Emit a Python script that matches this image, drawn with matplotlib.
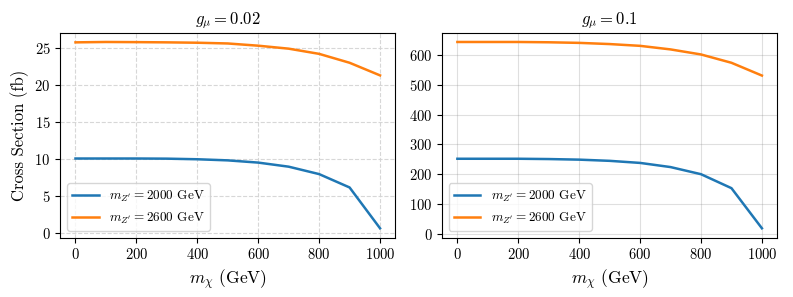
import numpy as np
import matplotlib
matplotlib.use('Agg')
from matplotlib import pyplot as plt

plt.rcParams['font.family'] = 'serif'
plt.rcParams['font.serif'] = ['cmr10']
plt.rcParams['mathtext.fontset'] = 'cm'
plt.rcParams['axes.formatter.use_mathtext'] = True

m_chi = [0, 100, 200, 300, 400, 500, 600, 700, 800, 900, 1000]

# g_mu = 0.02
xs_002_2000 = [10.1, 10.1, 10.1, 10.08, 10.0, 9.85, 9.55, 9.0, 8.0, 6.2, 0.7]
xs_002_2600 = [25.75, 25.8, 25.78, 25.75, 25.7, 25.6, 25.3, 24.9, 24.2, 23.0, 21.3]

# g_mu = 0.1
xs_01_2000 = [252, 252, 252, 251, 249, 245, 238, 224, 200, 153, 18]
xs_01_2600 = [645, 645, 645, 644, 642, 638, 632, 620, 603, 575, 532]

fig, (ax1, ax2) = plt.subplots(1, 2, figsize=(7.93, 2.97), dpi=100)

ax1.plot(m_chi, xs_002_2000, color='tab:blue', lw=1.8, label=r'$m_{Z^\prime} = 2000$ GeV')
ax1.plot(m_chi, xs_002_2600, color='tab:orange', lw=1.8, label=r'$m_{Z^\prime} = 2600$ GeV')
ax1.set_title(r'$g_\mu = 0.02$', fontsize=12)
ax1.set_xlabel(r'$m_\chi$ (GeV)', fontsize=12.5)
ax1.set_ylabel('Cross Section (fb)', fontsize=12)
ax1.grid(True, linestyle='--', color='lightgray', alpha=0.9)
ax1.legend(loc='lower left', fontsize=9.5)

ax2.plot(m_chi, xs_01_2000, color='tab:blue', lw=1.8, label=r'$m_{Z^\prime} = 2000$ GeV')
ax2.plot(m_chi, xs_01_2600, color='tab:orange', lw=1.8, label=r'$m_{Z^\prime} = 2600$ GeV')
ax2.set_title(r'$g_\mu = 0.1$', fontsize=12)
ax2.set_xlabel(r'$m_\chi$ (GeV)', fontsize=12.5)
ax2.grid(True, linestyle='-', color='gray', alpha=0.25)
ax2.legend(loc='lower left', fontsize=9.5)

for ax in (ax1, ax2):
    ax.tick_params(labelsize=10.5)

fig.subplots_adjust(left=0.076, right=0.98, top=0.89, bottom=0.2, wspace=0.14)
fig.savefig('out.png', dpi=100)
